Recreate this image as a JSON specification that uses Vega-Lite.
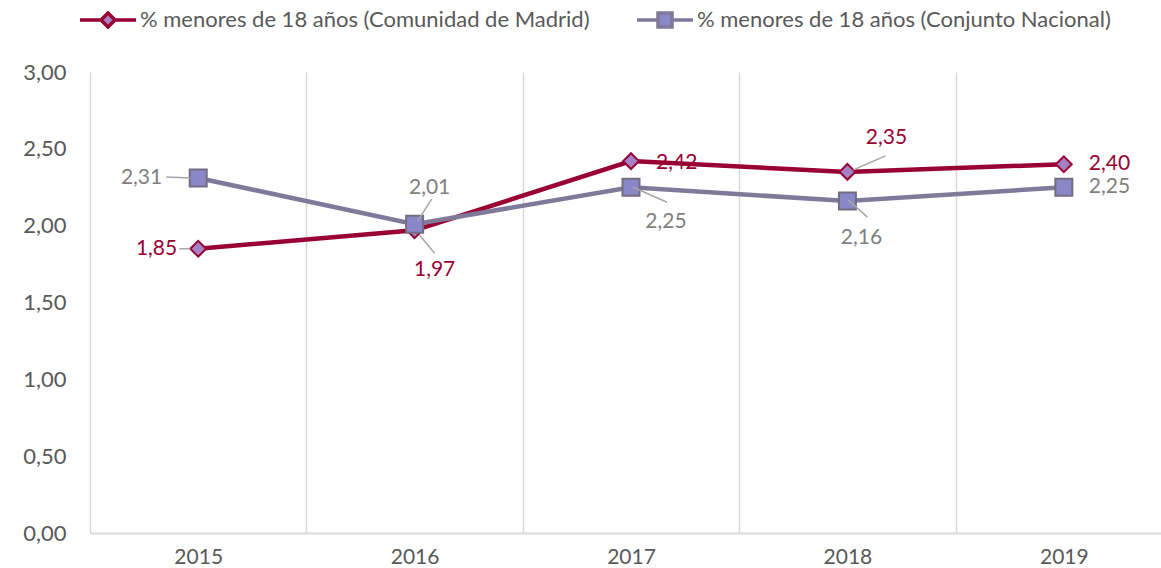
{
  "$schema": "https://vega.github.io/schema/vega-lite/v6.json",
  "width": 1071,
  "height": 461,
  "autosize": {"type": "none"},
  "padding": {"left": 90, "top": 72, "right": 0, "bottom": 35},
  "background": "white",
  "config": {
    "locale": {"number": {"decimal": ",", "thousands": ".", "grouping": [3], "currency": ["", " €"]}},
    "view": {"stroke": null},
    "font": "Lato",
    "text": {"font": "Lato"}
  },
  "data": {
    "values": [
      {"year": 2015, "serie": "% menores de 18 años (Comunidad de Madrid)", "value": 1.85},
      {"year": 2016, "serie": "% menores de 18 años (Comunidad de Madrid)", "value": 1.97},
      {"year": 2017, "serie": "% menores de 18 años (Comunidad de Madrid)", "value": 2.42},
      {"year": 2018, "serie": "% menores de 18 años (Comunidad de Madrid)", "value": 2.35},
      {"year": 2019, "serie": "% menores de 18 años (Comunidad de Madrid)", "value": 2.40},
      {"year": 2015, "serie": "% menores de 18 años (Conjunto Nacional)", "value": 2.31},
      {"year": 2016, "serie": "% menores de 18 años (Conjunto Nacional)", "value": 2.01},
      {"year": 2017, "serie": "% menores de 18 años (Conjunto Nacional)", "value": 2.25},
      {"year": 2018, "serie": "% menores de 18 años (Conjunto Nacional)", "value": 2.16},
      {"year": 2019, "serie": "% menores de 18 años (Conjunto Nacional)", "value": 2.25}
    ]
  },
  "encoding": {
    "x": {
      "field": "year", "type": "quantitative",
      "scale": {"domain": [2014.5, 2019.449], "nice": false, "zero": false},
      "axis": {
        "title": null,
        "values": [2014.5, 2015, 2015.5, 2016, 2016.5, 2017, 2017.5, 2018, 2018.5, 2019],
        "grid": true, "gridColor": "#D9D9D9", "gridWidth": 1.5,
        "gridOpacity": {"condition": {"test": "datum.value % 1 === 0", "value": 0}, "value": 1},
        "ticks": false, "domainColor": "#D9D9D9", "domainWidth": 2,
        "labelExpr": "datum.value % 1 === 0 ? toString(datum.value) : ''",
        "labelOverlap": false, "labelFlush": false,
        "labelFontSize": 21, "labelColor": "#595959", "labelPadding": 13, "labelFont": "Lato"
      }
    },
    "y": {
      "field": "value", "type": "quantitative",
      "scale": {"domain": [0, 3], "nice": false},
      "axis": {
        "title": null, "values": [0, 0.5, 1, 1.5, 2, 2.5, 3],
        "grid": false, "domain": false, "ticks": false, "format": ".2f",
        "labelFontSize": 22, "labelColor": "#595959", "labelPadding": 24, "labelFont": "Lato"
      }
    }
  },
  "layer": [
    {
      "mark": {"type": "line", "strokeWidth": 4.5},
      "encoding": {
        "stroke": {
          "field": "serie", "type": "nominal",
          "scale": {"domain": ["% menores de 18 años (Comunidad de Madrid)", "% menores de 18 años (Conjunto Nacional)"], "range": ["#990033", "#7F7A99"]}
        }
      }
    },
    {
      "mark": {"type": "point", "filled": true, "opacity": 1, "strokeWidth": 0, "size": 0},
      "encoding": {
        "shape": {
          "field": "serie", "type": "nominal",
          "scale": {"domain": ["% menores de 18 años (Comunidad de Madrid)", "% menores de 18 años (Conjunto Nacional)"], "range": ["M-1,0H-0.25M0.25,0H1M-0.25,0L0,-0.25L0.25,0L0,0.25Z", "M-1,0H-0.25M0.25,0H1M-0.25,-0.25H0.25V0.25H-0.25Z"]},
          "legend": {
            "title": null, "orient": "none", "legendX": -12, "legendY": -82,
            "direction": "horizontal",
            "symbolSize": 3136, "symbolStrokeWidth": 3.5, "symbolOpacity": 1,
            "labelFontSize": 22, "labelColor": "#595959", "labelLimit": 800, "labelOffset": 2, "labelFont": "Lato",
            "columnPadding": 40
          }
        },
        "stroke": {"field": "serie", "type": "nominal"},
        "fill": {
          "field": "serie", "type": "nominal",
          "scale": {"domain": ["% menores de 18 años (Comunidad de Madrid)", "% menores de 18 años (Conjunto Nacional)"], "range": ["#A681C4", "#8A87C9"]}
        }
      }
    },
    {
      "transform": [{"filter": "indexof(datum.serie, 'Madrid') >= 0"}],
      "mark": {"type": "point", "shape": "diamond", "size": 250, "filled": true, "opacity": 1, "fill": "#A681C4", "stroke": "#990033", "strokeWidth": 2}
    },
    {
      "transform": [{"filter": "indexof(datum.serie, 'Nacional') >= 0"}],
      "mark": {"type": "point", "shape": "square", "size": 289, "filled": true, "opacity": 1, "fill": "#8A87C9", "stroke": "#756C7F", "strokeWidth": 2}
    },
    {
      "transform": [{"filter": "datum.year === 2015 && indexof(datum.serie, 'Nacional') >= 0"}],
      "mark": {"type": "rule", "stroke": "#A6A6A6", "strokeWidth": 1.5, "xOffset": -32, "x2Offset": -8, "yOffset": -1, "y2Offset": 0},
      "encoding": {"x2": {"field": "year"}, "y2": {"field": "value"}}
    },
    {
      "transform": [{"filter": "datum.year === 2015 && indexof(datum.serie, 'Madrid') >= 0"}],
      "mark": {"type": "rule", "stroke": "#A6A6A6", "strokeWidth": 1.5, "xOffset": -19, "x2Offset": -8, "yOffset": 0, "y2Offset": 0},
      "encoding": {"x2": {"field": "year"}, "y2": {"field": "value"}}
    },
    {
      "transform": [{"filter": "datum.year === 2016 && indexof(datum.serie, 'Nacional') >= 0"}],
      "mark": {"type": "rule", "stroke": "#A6A6A6", "strokeWidth": 1.5, "xOffset": 17, "x2Offset": 3, "yOffset": -25, "y2Offset": -3},
      "encoding": {"x2": {"field": "year"}, "y2": {"field": "value"}}
    },
    {
      "transform": [{"filter": "datum.year === 2016 && indexof(datum.serie, 'Madrid') >= 0"}],
      "mark": {"type": "rule", "stroke": "#A6A6A6", "strokeWidth": 1.5, "xOffset": 5, "x2Offset": 20, "yOffset": 5, "y2Offset": 23},
      "encoding": {"x2": {"field": "year"}, "y2": {"field": "value"}}
    },
    {
      "transform": [{"filter": "datum.year === 2017 && indexof(datum.serie, 'Nacional') >= 0"}],
      "mark": {"type": "rule", "stroke": "#A6A6A6", "strokeWidth": 1.5, "xOffset": 2, "x2Offset": 36, "yOffset": 0, "y2Offset": 15},
      "encoding": {"x2": {"field": "year"}, "y2": {"field": "value"}}
    },
    {
      "transform": [{"filter": "datum.year === 2018 && indexof(datum.serie, 'Madrid') >= 0"}],
      "mark": {"type": "rule", "stroke": "#A6A6A6", "strokeWidth": 1.5, "xOffset": 6, "x2Offset": 38, "yOffset": -2, "y2Offset": -16},
      "encoding": {"x2": {"field": "year"}, "y2": {"field": "value"}}
    },
    {
      "transform": [{"filter": "datum.year === 2018 && indexof(datum.serie, 'Nacional') >= 0"}],
      "mark": {"type": "rule", "stroke": "#A6A6A6", "strokeWidth": 1.5, "xOffset": 1, "x2Offset": 20, "yOffset": -1, "y2Offset": 16},
      "encoding": {"x2": {"field": "year"}, "y2": {"field": "value"}}
    },
    {
      "transform": [{"filter": "datum.year === 2015 && indexof(datum.serie, 'Nacional') >= 0"}],
      "mark": {"type": "text", "fontSize": 21, "baseline": "middle", "align": "right", "dx": -36, "dy": 0},
      "encoding": {"text": {"field": "value", "type": "quantitative", "format": ".2f"}, "color": {"value": "#7F7F7F"}}
    },
    {
      "transform": [{"filter": "datum.year === 2015 && indexof(datum.serie, 'Madrid') >= 0"}],
      "mark": {"type": "text", "fontSize": 21, "baseline": "middle", "align": "right", "dx": -21, "dy": 0},
      "encoding": {"text": {"field": "value", "type": "quantitative", "format": ".2f"}, "color": {"value": "#990033"}}
    },
    {
      "transform": [{"filter": "datum.year === 2016 && indexof(datum.serie, 'Nacional') >= 0"}],
      "mark": {"type": "text", "fontSize": 21, "baseline": "middle", "align": "center", "dx": 15, "dy": -36},
      "encoding": {"text": {"field": "value", "type": "quantitative", "format": ".2f"}, "color": {"value": "#7F7F7F"}}
    },
    {
      "transform": [{"filter": "datum.year === 2016 && indexof(datum.serie, 'Madrid') >= 0"}],
      "mark": {"type": "text", "fontSize": 21, "baseline": "middle", "align": "center", "dx": 20, "dy": 40},
      "encoding": {"text": {"field": "value", "type": "quantitative", "format": ".2f"}, "color": {"value": "#990033"}}
    },
    {
      "transform": [{"filter": "datum.year === 2017 && indexof(datum.serie, 'Madrid') >= 0"}],
      "mark": {"type": "text", "fontSize": 21, "baseline": "middle", "align": "left", "dx": 25, "dy": 2},
      "encoding": {"text": {"field": "value", "type": "quantitative", "format": ".2f"}, "color": {"value": "#990033"}}
    },
    {
      "transform": [{"filter": "datum.year === 2017 && indexof(datum.serie, 'Nacional') >= 0"}],
      "mark": {"type": "text", "fontSize": 21, "baseline": "middle", "align": "center", "dx": 35, "dy": 35},
      "encoding": {"text": {"field": "value", "type": "quantitative", "format": ".2f"}, "color": {"value": "#7F7F7F"}}
    },
    {
      "transform": [{"filter": "datum.year === 2018 && indexof(datum.serie, 'Madrid') >= 0"}],
      "mark": {"type": "text", "fontSize": 21, "baseline": "middle", "align": "center", "dx": 39, "dy": -34},
      "encoding": {"text": {"field": "value", "type": "quantitative", "format": ".2f"}, "color": {"value": "#990033"}}
    },
    {
      "transform": [{"filter": "datum.year === 2018 && indexof(datum.serie, 'Nacional') >= 0"}],
      "mark": {"type": "text", "fontSize": 21, "baseline": "middle", "align": "center", "dx": 14, "dy": 37},
      "encoding": {"text": {"field": "value", "type": "quantitative", "format": ".2f"}, "color": {"value": "#7F7F7F"}}
    },
    {
      "transform": [{"filter": "datum.year === 2019"}],
      "mark": {"type": "text", "fontSize": 21, "baseline": "middle", "align": "left", "dx": 25, "dy": 0},
      "encoding": {
        "text": {"field": "value", "type": "quantitative", "format": ".2f"},
        "color": {"condition": {"test": "indexof(datum.serie, 'Madrid') >= 0", "value": "#990033"}, "value": "#7F7F7F"}
      }
    }
  ]
}
